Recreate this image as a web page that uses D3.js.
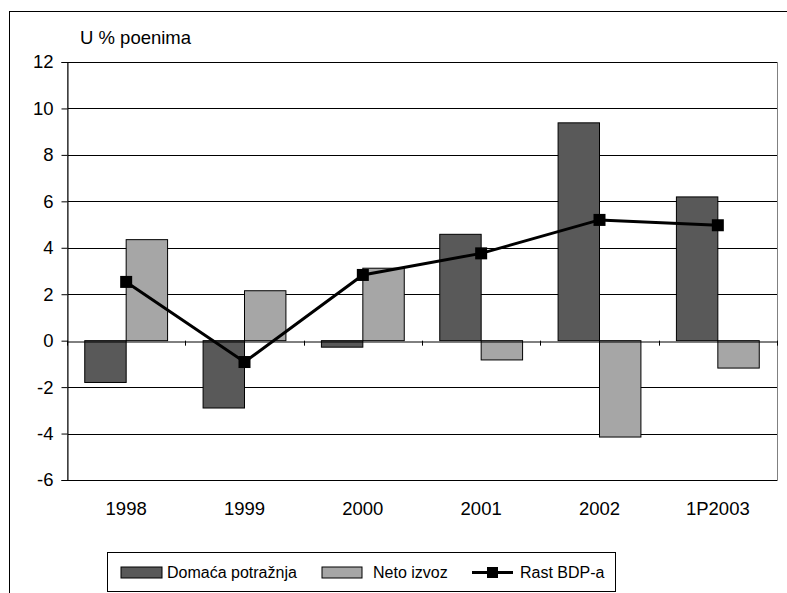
<!DOCTYPE html>
<html><head><meta charset="utf-8">
<script src="https://cdn.jsdelivr.net/npm/d3@7"></script>
<style>body{margin:0;background:#fff}svg{display:block}text{font-family:"Liberation Sans",Arial,sans-serif}</style>
</head><body><svg id="c" width="787" height="593"></svg>
<script>
const categories = ["1998","1999","2000","2001","2002","1P2003"];
const domestic = [-1.8,-2.9,-0.28,4.58,9.38,6.19];
const netExport = [4.35,2.15,3.12,-0.83,-4.15,-1.18];
const gdp = [2.53,-0.92,2.83,3.76,5.2,4.97];
const yTicks = [-6,-4,-2,0,2,4,6,8,10,12];
const seriesNames = ["Domaća potražnja","Neto izvoz","Rast BDP-a"];
const colors = ["#595959","#a6a6a6","#000"];

const svg = d3.select("#c");
const L=67, R=777, T=62, B=480;
svg.append("rect").attr("x",9.5).attr("y",11.5).attr("width",900).attr("height",700).attr("fill","none").attr("stroke","#000");

const y = d3.scaleLinear().domain([-6,12]).range([B,T]);
const x = d3.scaleBand().domain(categories).range([L,R]);
const bw = x.bandwidth()*0.35;

// gridlines
svg.append("g").selectAll("line").data(yTicks.filter(t=>t!==0&&t!==-6&&t!==12)).join("line")
  .attr("x1",L).attr("x2",R).attr("y1",d=>Math.round(y(d))+0.5).attr("y2",d=>Math.round(y(d))+0.5).attr("stroke","#000");
// plot border
svg.append("rect").attr("x",L+0.5).attr("y",T+0.5).attr("width",R-L).attr("height",B-T).attr("fill","none").attr("stroke","#808080");
svg.append("line").attr("x1",L).attr("x2",R).attr("y1",T+0.5).attr("y2",T+0.5).attr("stroke","#000");
svg.append("line").attr("x1",L).attr("x2",R).attr("y1",B+0.5).attr("y2",B+0.5).attr("stroke","#000");

// bars
const g = svg.append("g");
categories.forEach((c,i)=>{
  const cx = x(c)+x.bandwidth()/2;
  [[domestic[i],colors[0],cx-bw],[netExport[i],colors[1],cx]].forEach(([v,col,x0])=>{
    g.append("rect").attr("x",x0).attr("width",bw)
      .attr("y",Math.min(y(v),y(0))).attr("height",Math.abs(y(v)-y(0)))
      .attr("fill",col).attr("stroke","#000").attr("stroke-width",1);
  });
});

// y axis
const ya = svg.append("g").attr("transform",`translate(${L+0.5},0)`)
  .call(d3.axisLeft(y).tickValues(yTicks).tickSize(6).tickPadding(8).tickFormat(d=>String(d)));
ya.select(".domain").attr("stroke","#000");
ya.selectAll("text").attr("font-size",18.5).attr("fill","#000").attr("font-family","Liberation Sans, Arial, sans-serif");
ya.selectAll("line").attr("stroke","#000");

// x axis at zero
const xa = svg.append("g").attr("transform",`translate(0,${Math.round(y(0))+0.5})`)
  .call(d3.axisBottom(x).tickSize(0).tickFormat(""));
xa.select(".domain").attr("stroke","#000");
xa.selectAll(".tick").remove();
svg.append("g").selectAll("line").data(d3.range(categories.length+1)).join("line")
  .attr("x1",i=>Math.round(L+i*x.step())+0.5).attr("x2",i=>Math.round(L+i*x.step())+0.5)
  .attr("y1",y(0)).attr("y2",y(0)+5).attr("stroke","#000");

// category labels
svg.append("g").selectAll("text").data(categories).join("text")
  .attr("x",d=>x(d)+x.bandwidth()/2).attr("y",515).attr("text-anchor","middle")
  .attr("font-size",18.5).text(d=>d);

// line
const line = d3.line().x((d,i)=>x(categories[i])+x.bandwidth()/2).y(d=>y(d));
svg.append("path").datum(gdp).attr("d",line).attr("fill","none").attr("stroke","#000").attr("stroke-width",3);
svg.append("g").selectAll("rect").data(gdp).join("rect")
  .attr("x",(d,i)=>x(categories[i])+x.bandwidth()/2-6).attr("y",d=>y(d)-6)
  .attr("width",12).attr("height",12).attr("fill","#000");

// unit label
svg.append("text").attr("x",80).attr("y",44).attr("font-size",18.5).text("U % poenima");

// legend
const lg = svg.append("g");
lg.append("rect").attr("x",107.5).attr("y",552.5).attr("width",508).attr("height",39).attr("fill","#fff").attr("stroke","#000");
lg.append("rect").attr("x",121).attr("y",567).attr("width",41).attr("height",11).attr("fill",colors[0]).attr("stroke","#000");
lg.append("text").attr("x",167).attr("y",578).attr("font-size",16).text(seriesNames[0]);
lg.append("rect").attr("x",322).attr("y",567).attr("width",40).attr("height",11).attr("fill",colors[1]).attr("stroke","#000");
lg.append("text").attr("x",373).attr("y",578).attr("font-size",16).text(seriesNames[1]);
lg.append("line").attr("x1",472).attr("x2",513).attr("y1",572.5).attr("y2",572.5).attr("stroke","#000").attr("stroke-width",3);
lg.append("rect").attr("x",487).attr("y",567).attr("width",11).attr("height",11).attr("fill","#000");
lg.append("text").attr("x",520).attr("y",578).attr("font-size",16).text(seriesNames[2]);
</script></body></html>
